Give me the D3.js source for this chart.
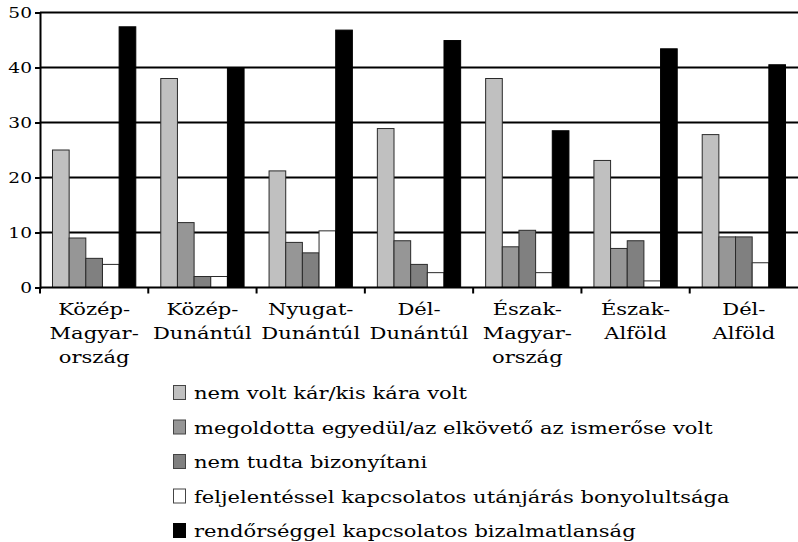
<!DOCTYPE html>
<html>
<head>
<meta charset="utf-8">
<script src="https://cdn.jsdelivr.net/npm/d3@7"></script>
<style>
  body { margin: 0; background: #fff; }
  text { font-family: "DejaVu Serif", serif; fill: #000; }
</style>
</head>
<body>
<div id="chart"></div>
<script>
// regions, each label split into its printed lines
const regions = ["Közép-Magyarország", "Közép-Dunántúl", "Nyugat-Dunántúl", "Dél-Dunántúl",
  "Észak-Magyarország", "Észak-Alföld", "Dél-Alföld"];
const regionLines = [
  ["Közép-", "Magyar-", "ország"],
  ["Közép-", "Dunántúl"],
  ["Nyugat-", "Dunántúl"],
  ["Dél-", "Dunántúl"],
  ["Észak-", "Magyar-", "ország"],
  ["Észak-", "Alföld"],
  ["Dél-", "Alföld"]
];

const seriesNames = [
  "nem volt kár/kis kára volt",
  "megoldotta egyedül/az elkövető az ismerőse volt",
  "nem tudta bizonyítani",
  "feljelentéssel kapcsolatos utánjárás bonyolultsága",
  "rendőrséggel kapcsolatos bizalmatlanság"
];

const kisKar = [25.0, 38.0, 21.2, 28.9, 38.0, 23.1, 27.8];
const egyedul = [9.0, 11.8, 8.2, 8.5, 7.4, 7.1, 9.2];
const nemTudta = [5.3, 2.0, 6.3, 4.2, 10.4, 8.5, 9.2];
const utanjaras = [4.2, 2.0, 10.3, 2.7, 2.7, 1.2, 4.5];
const bizalmatlan = [47.4, 39.9, 46.8, 44.9, 28.5, 43.4, 40.5];

const yTicks = [0, 10, 20, 30, 40, 50];

const seriesValues = [kisKar, egyedul, nemTudta, utanjaras, bizalmatlan];
const colors = ["#c0c0c0", "#969696", "#808080", "#ffffff", "#000000"];

const W = 798, H = 542;
const margin = { top: 12.5, right: 0, bottom: 254.5, left: 40 };
const stretch = 1.24; // the original lettering is drawn wide

const svg = d3.select("#chart").append("svg")
  .attr("width", W)
  .attr("height", H);

const x = d3.scaleBand()
  .domain(regions)
  .range([margin.left, W - margin.right]);

const xs = d3.scaleBand()
  .domain(d3.range(seriesNames.length))
  .range([0, x.bandwidth()])
  .paddingInner(0)
  .paddingOuter(0.75);

const y = d3.scaleLinear()
  .domain([0, 50])
  .range([H - margin.bottom, margin.top]);

// grid lines
svg.append("g")
  .selectAll("line")
  .data(yTicks.filter(d => d > 0))
  .join("line")
  .attr("x1", margin.left)
  .attr("x2", W - margin.right)
  .attr("y1", d => y(d))
  .attr("y2", d => y(d))
  .attr("stroke", "#000")
  .attr("stroke-width", 2);

// bars
const rows = regions.map((r, i) => ({ region: r, values: seriesValues.map(s => s[i]) }));

svg.append("g")
  .selectAll("g")
  .data(rows)
  .join("g")
  .attr("transform", d => `translate(${x(d.region)},0)`)
  .selectAll("rect")
  .data(d => d.values.map((v, k) => ({ k, v })))
  .join("rect")
  .attr("x", d => xs(d.k))
  .attr("width", xs.bandwidth())
  .attr("y", d => y(d.v))
  .attr("height", d => y(0) - y(d.v))
  .attr("fill", d => colors[d.k])
  .attr("stroke", d => d.k === 4 ? "#000" : "#2a2a2a")
  .attr("stroke-width", 1);

// y axis
const yAxis = svg.append("g")
  .attr("transform", `translate(${margin.left},0)`)
  .call(d3.axisLeft(y).tickValues(yTicks).tickSize(5).tickFormat(d3.format("d")));
yAxis.select(".domain").attr("stroke-width", 2);
yAxis.selectAll(".tick line").attr("stroke-width", 2);
yAxis.selectAll(".tick text").remove();

svg.append("g")
  .selectAll("text")
  .data(yTicks)
  .join("text")
  .attr("transform", d => `translate(${margin.left - 8},${y(d) + 5}) scale(${stretch},1)`)
  .attr("text-anchor", "end")
  .attr("font-size", 15)
  .text(d => d);

// x axis with ticks between the groups
const xAxis = svg.append("g")
  .attr("transform", `translate(0,${y(0)})`);
xAxis.append("line")
  .attr("x1", margin.left)
  .attr("x2", W - margin.right)
  .attr("stroke", "#000")
  .attr("stroke-width", 2);
xAxis.selectAll(".sep")
  .data(regions)
  .join("line")
  .attr("class", "sep")
  .attr("x1", d => x(d))
  .attr("x2", d => x(d))
  .attr("y1", 0)
  .attr("y2", 6)
  .attr("stroke", "#000")
  .attr("stroke-width", 2);

// category labels
const labels = svg.append("g")
  .selectAll("g")
  .data(regions)
  .join("g")
  .attr("transform", d => `translate(${x(d) + x.bandwidth() / 2},${y(0)})`);
labels.selectAll("text")
  .data((d, i) => regionLines[i])
  .join("text")
  .attr("transform", (d, j) => `translate(0,${27 + j * 24}) scale(${stretch},1)`)
  .attr("text-anchor", "middle")
  .attr("font-size", 17)
  .text(d => d);

// legend
const legend = svg.append("g")
  .attr("transform", "translate(173,399)");
const item = legend.selectAll("g")
  .data(seriesNames)
  .join("g")
  .attr("transform", (d, i) => `translate(0,${i * 34.5})`);
item.append("rect")
  .attr("x", 0.5)
  .attr("y", -13.5)
  .attr("width", 12)
  .attr("height", 14)
  .attr("fill", (d, i) => colors[i])
  .attr("stroke", (d, i) => i === 4 ? "#000" : "#444")
  .attr("stroke-width", 1);
item.append("text")
  .attr("transform", `translate(21,0) scale(${stretch},1)`)
  .attr("font-size", 17)
  .text(d => d);
</script>
</body>
</html>
